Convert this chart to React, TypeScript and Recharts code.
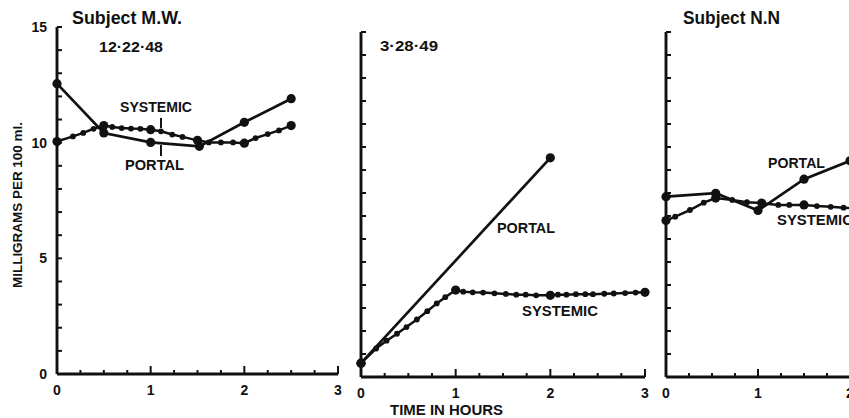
import React from 'react';
import { LineChart, Line, XAxis, YAxis, ReferenceLine } from 'recharts';

// time axis (hours) and concentration axis (mg per 100 ml)
const hourTicks = [0, 0.25, 0.5, 0.75, 1, 1.25, 1.5, 1.75, 2, 2.25, 2.5, 2.75, 3];
const hourLabels = [0, 1, 2, 3];
const mgTicks = [0, 1, 2, 3, 4, 5, 6, 7, 8, 9, 10, 11, 12, 13, 14, 15];
const mgLabels = [0, 5, 10, 15];

// Subject M.W. 12-22-48
const mwPortalTime = [0, 0.5, 1.0, 1.52, 2.0, 2.5];
const mwPortalValue = [12.55, 10.42, 10.01, 9.84, 10.88, 11.9];
const mwSystemicTime = [0, 0.17, 0.28, 0.39, 0.5, 0.59, 0.69, 0.79, 0.89, 1.0, 1.11, 1.23, 1.34, 1.5, 1.62, 1.75, 1.88, 2.0, 2.12, 2.25, 2.37, 2.5];
const mwSystemicValue = [10.05, 10.27, 10.42, 10.6, 10.74, 10.68, 10.63, 10.61, 10.6, 10.56, 10.49, 10.35, 10.25, 10.1, 10.01, 10.01, 10.01, 9.98, 10.2, 10.37, 10.53, 10.74];
const mwBigTimes = [0, 0.5, 1.0, 1.5, 2.0, 2.5];

// 3-28-49
const b2PortalTime = [0, 2];
const b2PortalValue = [0.6, 9.53];
const b2SystemicTime = [0, 0.16, 0.27, 0.38, 0.48, 0.59, 0.7, 0.8, 0.89, 1.0, 1.08, 1.18, 1.29, 1.41, 1.53, 1.64, 1.74, 1.85, 2.0, 2.08, 2.17, 2.27, 2.37, 2.45, 2.57, 2.67, 2.79, 2.9, 3.0];
const b2SystemicValue = [0.6, 1.24, 1.58, 1.88, 2.17, 2.5, 2.86, 3.2, 3.47, 3.78, 3.71, 3.68, 3.67, 3.64, 3.61, 3.58, 3.58, 3.55, 3.55, 3.58, 3.58, 3.6, 3.6, 3.6, 3.62, 3.63, 3.65, 3.67, 3.68];
const b2BigTimes = [0, 1, 2, 3];

// Subject N.N
const nnPortalTime = [0, 0.54, 1.0, 1.5, 2.0];
const nnPortalValue = [7.84, 7.99, 7.24, 8.6, 9.4];
const nnSystemicTime = [0, 0.1, 0.26, 0.41, 0.54, 0.72, 0.88, 1.04, 1.22, 1.34, 1.5, 1.64, 1.79, 1.93, 2.05];
const nnSystemicValue = [6.8, 6.97, 7.26, 7.58, 7.78, 7.7, 7.6, 7.56, 7.48, 7.48, 7.48, 7.43, 7.4, 7.36, 7.33];
const nnBigTimes = [0, 0.54, 1.04, 1.5];

const INK = '#111';
const FONT = '"Liberation Sans", Arial, sans-serif';

const toRows = (t: number[], v: number[]) => t.map((time, i) => ({ t: time, v: v[i] }));

const YTick = (props: any) => {
  const { x, y, payload, showLabels } = props;
  const v = payload.value;
  return (
    <g>
      <line x1={x} y1={y} x2={x + 5} y2={y} stroke={INK} strokeWidth={2} />
      {showLabels && mgLabels.includes(v) && (
        <text x={x - 10} y={y} dy="0.36em" textAnchor="end" fontSize={14} fontWeight="bold" fontFamily={FONT} fill={INK}>
          {v}
        </text>
      )}
    </g>
  );
};

const XTick = (props: any) => {
  const { x, y, payload } = props;
  const v = payload.value;
  const major = hourLabels.includes(v);
  return (
    <g>
      <line x1={x} y1={y} x2={x} y2={y - (major ? 8 : 4)} stroke={INK} strokeWidth={2} />
      {major && (
        <text x={x} y={y + 21} textAnchor="middle" fontSize={14} fontWeight="bold" fontFamily={FONT} fill={INK}>
          {v}
        </text>
      )}
    </g>
  );
};

const makeDot = (bigTimes: number[], small: number) => (p: any) => {
  const big = bigTimes.some((b) => Math.abs(b - p.payload.t) < 0.001);
  return <circle key={`d-${p.index}`} cx={p.cx} cy={p.cy} r={big ? 4.6 : small} fill={INK} stroke="none" />;
};

interface PanelProps {
  left: number;
  width: number;
  top: number;
  bottom: number;
  axisLeft: number;
  right: number;
  showLabels: boolean;
  portal: { t: number; v: number }[];
  systemic: { t: number; v: number }[];
  bigTimes: number[];
  children?: React.ReactNode;
}

const Panel = ({ left, width, top, bottom, axisLeft, right, showLabels, portal, systemic, bigTimes, children }: PanelProps) => (
  <div style={{ position: 'absolute', left, top: 0 }}>
    <LineChart width={width} height={418} margin={{ top, right, left: 0, bottom: 0 }}>
      <XAxis
        dataKey="t"
        type="number"
        domain={[0, 3]}
        ticks={hourTicks}
        interval={0}
        height={418 - bottom}
        tickSize={0}
        tickMargin={0}
        tickLine={false}
        axisLine={{ stroke: INK, strokeWidth: 2.9 }}
        tick={(p: any) => <XTick {...p} />}
      />
      <YAxis
        type="number"
        domain={[0, 15]}
        ticks={mgTicks}
        interval={0}
        width={axisLeft}
        tickSize={0}
        tickMargin={0}
        tickLine={false}
        axisLine={{ stroke: INK, strokeWidth: 2.9 }}
        tick={(p: any) => <YTick {...p} showLabels={showLabels} />}
      />
      {children}
      <Line data={systemic} dataKey="v" type="linear" stroke={INK} strokeWidth={2.5} dot={makeDot(bigTimes, 2.9)} activeDot={false} isAnimationActive={false} />
      <Line data={portal} dataKey="v" type="linear" stroke={INK} strokeWidth={2.7} dot={makeDot(portal.map((d) => d.t), 4.6)} activeDot={false} isAnimationActive={false} />
    </LineChart>
  </div>
);

const Label = ({ x, y, w, size = 14, children }: { x: number; y: number; w: number; size?: number; children: React.ReactNode }) => (
  <text x={x} y={y} textLength={w} lengthAdjust="spacingAndGlyphs" fontSize={size} fontWeight="bold" fontFamily={FONT} fill={INK}>
    {children}
  </text>
);

export default function App() {
  return (
    <div style={{ position: 'absolute', left: 0, top: 0, width: 849, height: 418, overflow: 'hidden', background: '#fff' }}>
      <Panel left={0} width={350} top={27} bottom={374} axisLeft={57} right={12} showLabels portal={toRows(mwPortalTime, mwPortalValue)} systemic={toRows(mwSystemicTime, mwSystemicValue)} bigTimes={mwBigTimes}>
        <ReferenceLine segment={[{ x: 1.11, y: 11.07 }, { x: 1.11, y: 10.63 }]} stroke={INK} strokeWidth={2} />
        <ReferenceLine segment={[{ x: 1.11, y: 9.9 }, { x: 1.11, y: 9.42 }]} stroke={INK} strokeWidth={2} />
      </Panel>
      <Panel left={350} width={300} top={32} bottom={377} axisLeft={11} right={5} showLabels={false} portal={toRows(b2PortalTime, b2PortalValue)} systemic={toRows(b2SystemicTime, b2SystemicValue)} bigTimes={b2BigTimes} />
      <Panel left={650} width={300} top={32} bottom={377} axisLeft={16} right={8} showLabels={false} portal={toRows(nnPortalTime, nnPortalValue)} systemic={toRows(nnSystemicTime, nnSystemicValue)} bigTimes={nnBigTimes} />
      <svg width={849} height={418} style={{ position: 'absolute', left: 0, top: 0, pointerEvents: 'none' }}>
        <Label x={72} y={24} w={110} size={18}>Subject M.W.</Label>
        <Label x={99} y={52} w={64}>12·22·48</Label>
        <Label x={120} y={112} w={72}>SYSTEMIC</Label>
        <Label x={125} y={170} w={59}>PORTAL</Label>
        <Label x={380} y={51} w={58}>3·28·49</Label>
        <Label x={497} y={233} w={58}>PORTAL</Label>
        <Label x={522} y={316} w={76}>SYSTEMIC</Label>
        <Label x={683} y={24} w={97} size={18}>Subject N.N</Label>
        <Label x={768} y={168} w={57}>PORTAL</Label>
        <Label x={777} y={225} w={76}>SYSTEMIC</Label>
        <Label x={390} y={415} w={113}>TIME IN HOURS</Label>
        <g transform="translate(22,205) rotate(-90)">
          <text x={-83} y={0} textLength={166} lengthAdjust="spacingAndGlyphs" fontSize={13} fontWeight="bold" fontFamily={FONT} fill={INK}>
            MILLIGRAMS PER 100 ml.
          </text>
        </g>
      </svg>
    </div>
  );
}
